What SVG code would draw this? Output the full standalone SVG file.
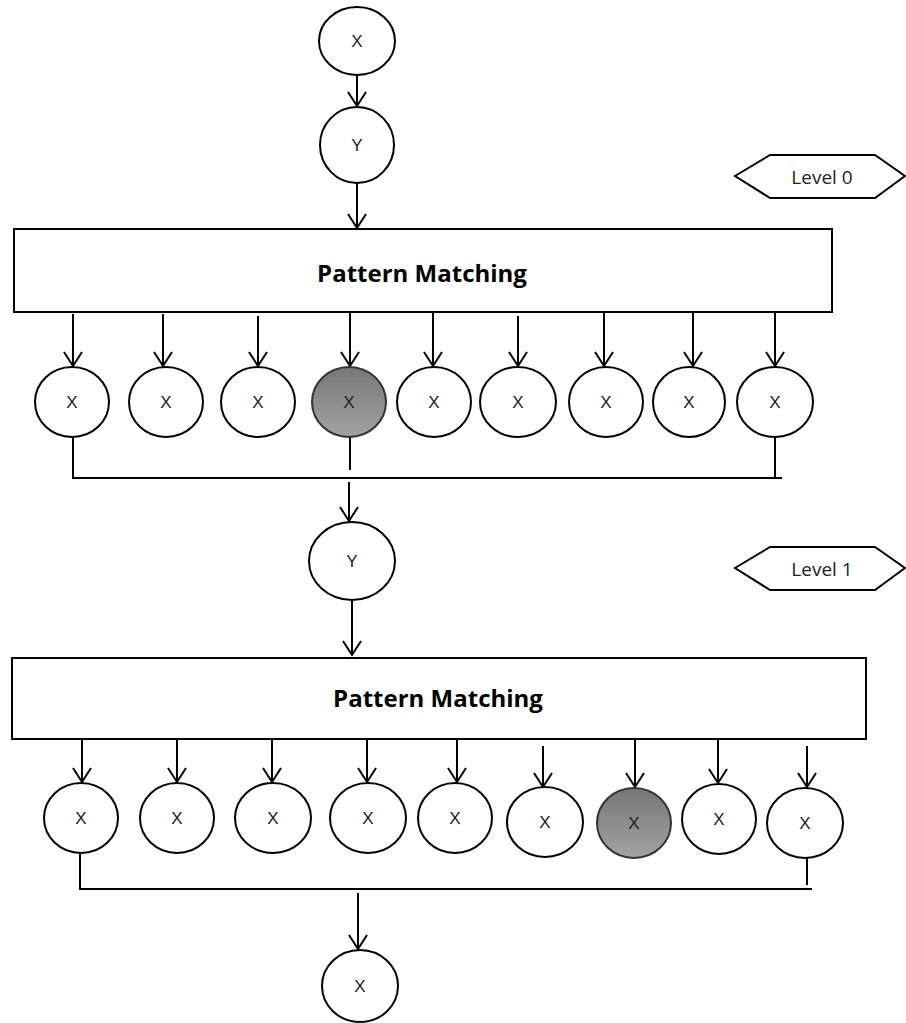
<svg xmlns="http://www.w3.org/2000/svg" width="906" height="1023" viewBox="0 0 906 1023">
<defs>
<linearGradient id="gray" x1="0" y1="0" x2="0" y2="1">
<stop offset="0" stop-color="#767676"/>
<stop offset="1" stop-color="#a3a3a3"/>
</linearGradient>
<marker id="arr" markerUnits="userSpaceOnUse" viewBox="-16 -11 18 22" markerWidth="18" markerHeight="22" refX="0" refY="0" orient="auto" overflow="visible">
<path d="M -14 -9 L 0 0 L -14 9" fill="none" stroke="#000" stroke-width="2"/>
</marker>
</defs>
<style>
.n{fill:#fff;stroke:#000;stroke-width:2}
.g{fill:url(#gray);stroke:#333;stroke-width:2}
.t{font-family:"Liberation Sans",Arial,sans-serif;font-size:17px;fill:#222;text-anchor:middle}
.b{font-family:"Open Sans","Liberation Sans",sans-serif;font-weight:bold;font-size:24px;fill:#000;text-anchor:middle}
.l{font-family:"Open Sans","Liberation Sans",sans-serif;font-size:19px;fill:#222;text-anchor:middle}
.c{fill:none;stroke:#000;stroke-width:2}
.a{fill:none;stroke:#000;stroke-width:2;marker-end:url(#arr)}
</style>
<rect width="906" height="1023" fill="#fff"/>

<g id="connectors">
<path class="a" d="M357 75 V106"/>
<path class="a" d="M357 183 V228"/>
<path class="a" d="M73 314 V366"/>
<path class="a" d="M163 314 V366"/>
<path class="a" d="M258 316 V366"/>
<path class="a" d="M350 312 V366"/>
<path class="a" d="M433 312 V366"/>
<path class="a" d="M518 316 V366"/>
<path class="a" d="M604 312 V366"/>
<path class="a" d="M693 312 V366"/>
<path class="a" d="M775 312 V366"/>
<path class="c" d="M73 437 V478 H782"/>
<path class="c" d="M775 437 V478"/>
<path class="c" d="M350 437 V470"/>
<path class="a" d="M349 482 V521"/>
<path class="a" d="M352 600 V655"/>
<path class="a" d="M82 740 V782"/>
<path class="a" d="M177 740 V782"/>
<path class="a" d="M272 740 V782"/>
<path class="a" d="M367 740 V782"/>
<path class="a" d="M457 740 V782"/>
<path class="a" d="M543 746 V787"/>
<path class="a" d="M635 740 V787"/>
<path class="a" d="M718 740 V783"/>
<path class="a" d="M807 746 V787"/>
<path class="c" d="M80 853 V889 H812"/>
<path class="c" d="M807 858 V885"/>
<path class="a" d="M358 893 V949"/>
</g>

<g id="x-top"><ellipse class="n" cx="357" cy="41" rx="38" ry="34"/><text class="t" x="357" y="47">X</text></g>
<g id="y-top"><ellipse class="n" cx="357" cy="145" rx="37" ry="38"/><text class="t" x="357" y="151">Y</text></g>

<g id="level0"><polygon class="n" points="735,176 770,155 875,155 905,176 875,198 770,198"/><text class="l" x="822" y="184">Level 0</text></g>

<g id="pm0"><rect class="n" x="14" y="229" width="818" height="83"/><text class="b" x="422" y="282">Pattern Matching</text></g>

<g id="r0-1"><ellipse class="n" cx="72" cy="402" rx="37" ry="35"/><text class="t" x="72" y="408">X</text></g>
<g id="r0-2"><ellipse class="n" cx="166" cy="402" rx="37" ry="35"/><text class="t" x="166" y="408">X</text></g>
<g id="r0-3"><ellipse class="n" cx="258" cy="402" rx="37" ry="35"/><text class="t" x="258" y="408">X</text></g>
<g id="r0-4"><ellipse class="g" cx="349" cy="402" rx="37" ry="35"/><text class="t" x="349" y="408">X</text></g>
<g id="r0-5"><ellipse class="n" cx="434" cy="402" rx="37" ry="35"/><text class="t" x="434" y="408">X</text></g>
<g id="r0-6"><ellipse class="n" cx="518" cy="402" rx="38" ry="35"/><text class="t" x="518" y="408">X</text></g>
<g id="r0-7"><ellipse class="n" cx="606" cy="402" rx="37" ry="35"/><text class="t" x="606" y="408">X</text></g>
<g id="r0-8"><ellipse class="n" cx="689" cy="402" rx="36" ry="35"/><text class="t" x="689" y="408">X</text></g>
<g id="r0-9"><ellipse class="n" cx="775" cy="402" rx="38" ry="35"/><text class="t" x="775" y="408">X</text></g>

<g id="y-mid"><ellipse class="n" cx="352" cy="561" rx="43" ry="39"/><text class="t" x="352" y="567">Y</text></g>

<g id="level1"><polygon class="n" points="735,568 770,547 875,547 905,568 875,590 770,590"/><text class="l" x="822" y="576">Level 1</text></g>

<g id="pm1"><rect class="n" x="12" y="658" width="854" height="81"/><text class="b" x="438" y="707">Pattern Matching</text></g>

<g id="r1-1"><ellipse class="n" cx="81" cy="818" rx="37" ry="35"/><text class="t" x="81" y="824">X</text></g>
<g id="r1-2"><ellipse class="n" cx="177" cy="818" rx="37" ry="35"/><text class="t" x="177" y="824">X</text></g>
<g id="r1-3"><ellipse class="n" cx="273" cy="818" rx="38" ry="35"/><text class="t" x="273" y="824">X</text></g>
<g id="r1-4"><ellipse class="n" cx="368" cy="818" rx="38" ry="35"/><text class="t" x="368" y="824">X</text></g>
<g id="r1-5"><ellipse class="n" cx="455" cy="818" rx="37" ry="35"/><text class="t" x="455" y="824">X</text></g>
<g id="r1-6"><ellipse class="n" cx="545" cy="822" rx="38" ry="35"/><text class="t" x="545" y="828">X</text></g>
<g id="r1-7"><ellipse class="g" cx="634" cy="823" rx="37" ry="35"/><text class="t" x="634" y="829">X</text></g>
<g id="r1-8"><ellipse class="n" cx="719" cy="819" rx="37" ry="35"/><text class="t" x="719" y="825">X</text></g>
<g id="r1-9"><ellipse class="n" cx="805" cy="823" rx="38" ry="35"/><text class="t" x="805" y="829">X</text></g>

<g id="x-bottom"><ellipse class="n" cx="360" cy="986" rx="38" ry="36"/><text class="t" x="360" y="992">X</text></g>
</svg>
